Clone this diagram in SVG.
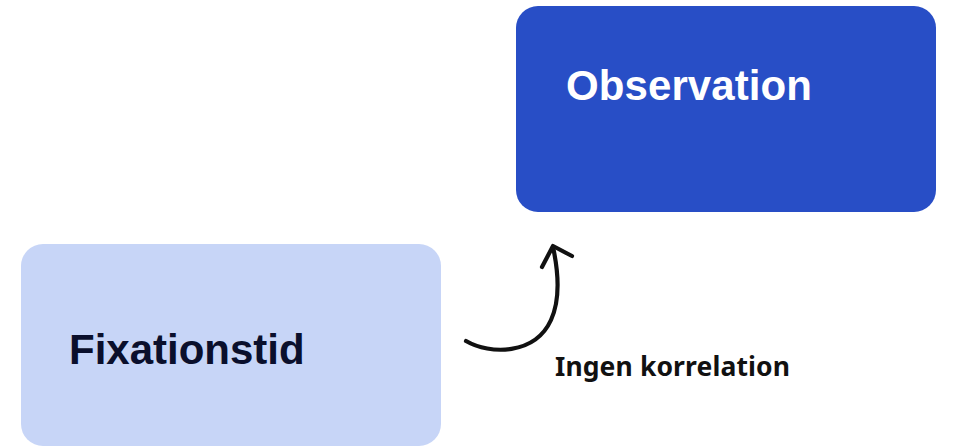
<svg xmlns="http://www.w3.org/2000/svg" width="953" height="447" viewBox="0 0 953 447">
<style>
.box{stroke:none}
.lbl{font-family:"Liberation Sans",Arial,sans-serif;font-weight:bold;font-size:42px}
.edge{fill:none;stroke:#111;stroke-width:4.2;stroke-linecap:round;stroke-linejoin:round}
.elbl{font-family:"Noto Sans","Open Sans",sans-serif;font-weight:bold;font-size:26.5px;fill:#111}
</style>
<rect width="953" height="447" fill="#ffffff"/>
<g id="node-observation">
<rect class="box" x="516" y="6" width="420" height="206" rx="22" fill="#284ec6"/>
<text class="lbl" x="566" y="100" fill="#ffffff" textLength="246">Observation</text>
</g>
<g id="node-fixationstid">
<rect class="box" x="21" y="244" width="420" height="202" rx="22" fill="#c7d5f7"/>
<text class="lbl" x="69" y="364" fill="#0a0f2c">Fixationstid</text>
</g>
<g id="connectors">
<path class="edge" d="M466,341 C490,355 535,355 551,320 C561,298 558,270 553,247"/>
<path class="edge" d="M542,267 L553,246 L572,256"/>
<text class="elbl" x="555" y="376" textLength="235">Ingen korrelation</text>
</g>
</svg>
